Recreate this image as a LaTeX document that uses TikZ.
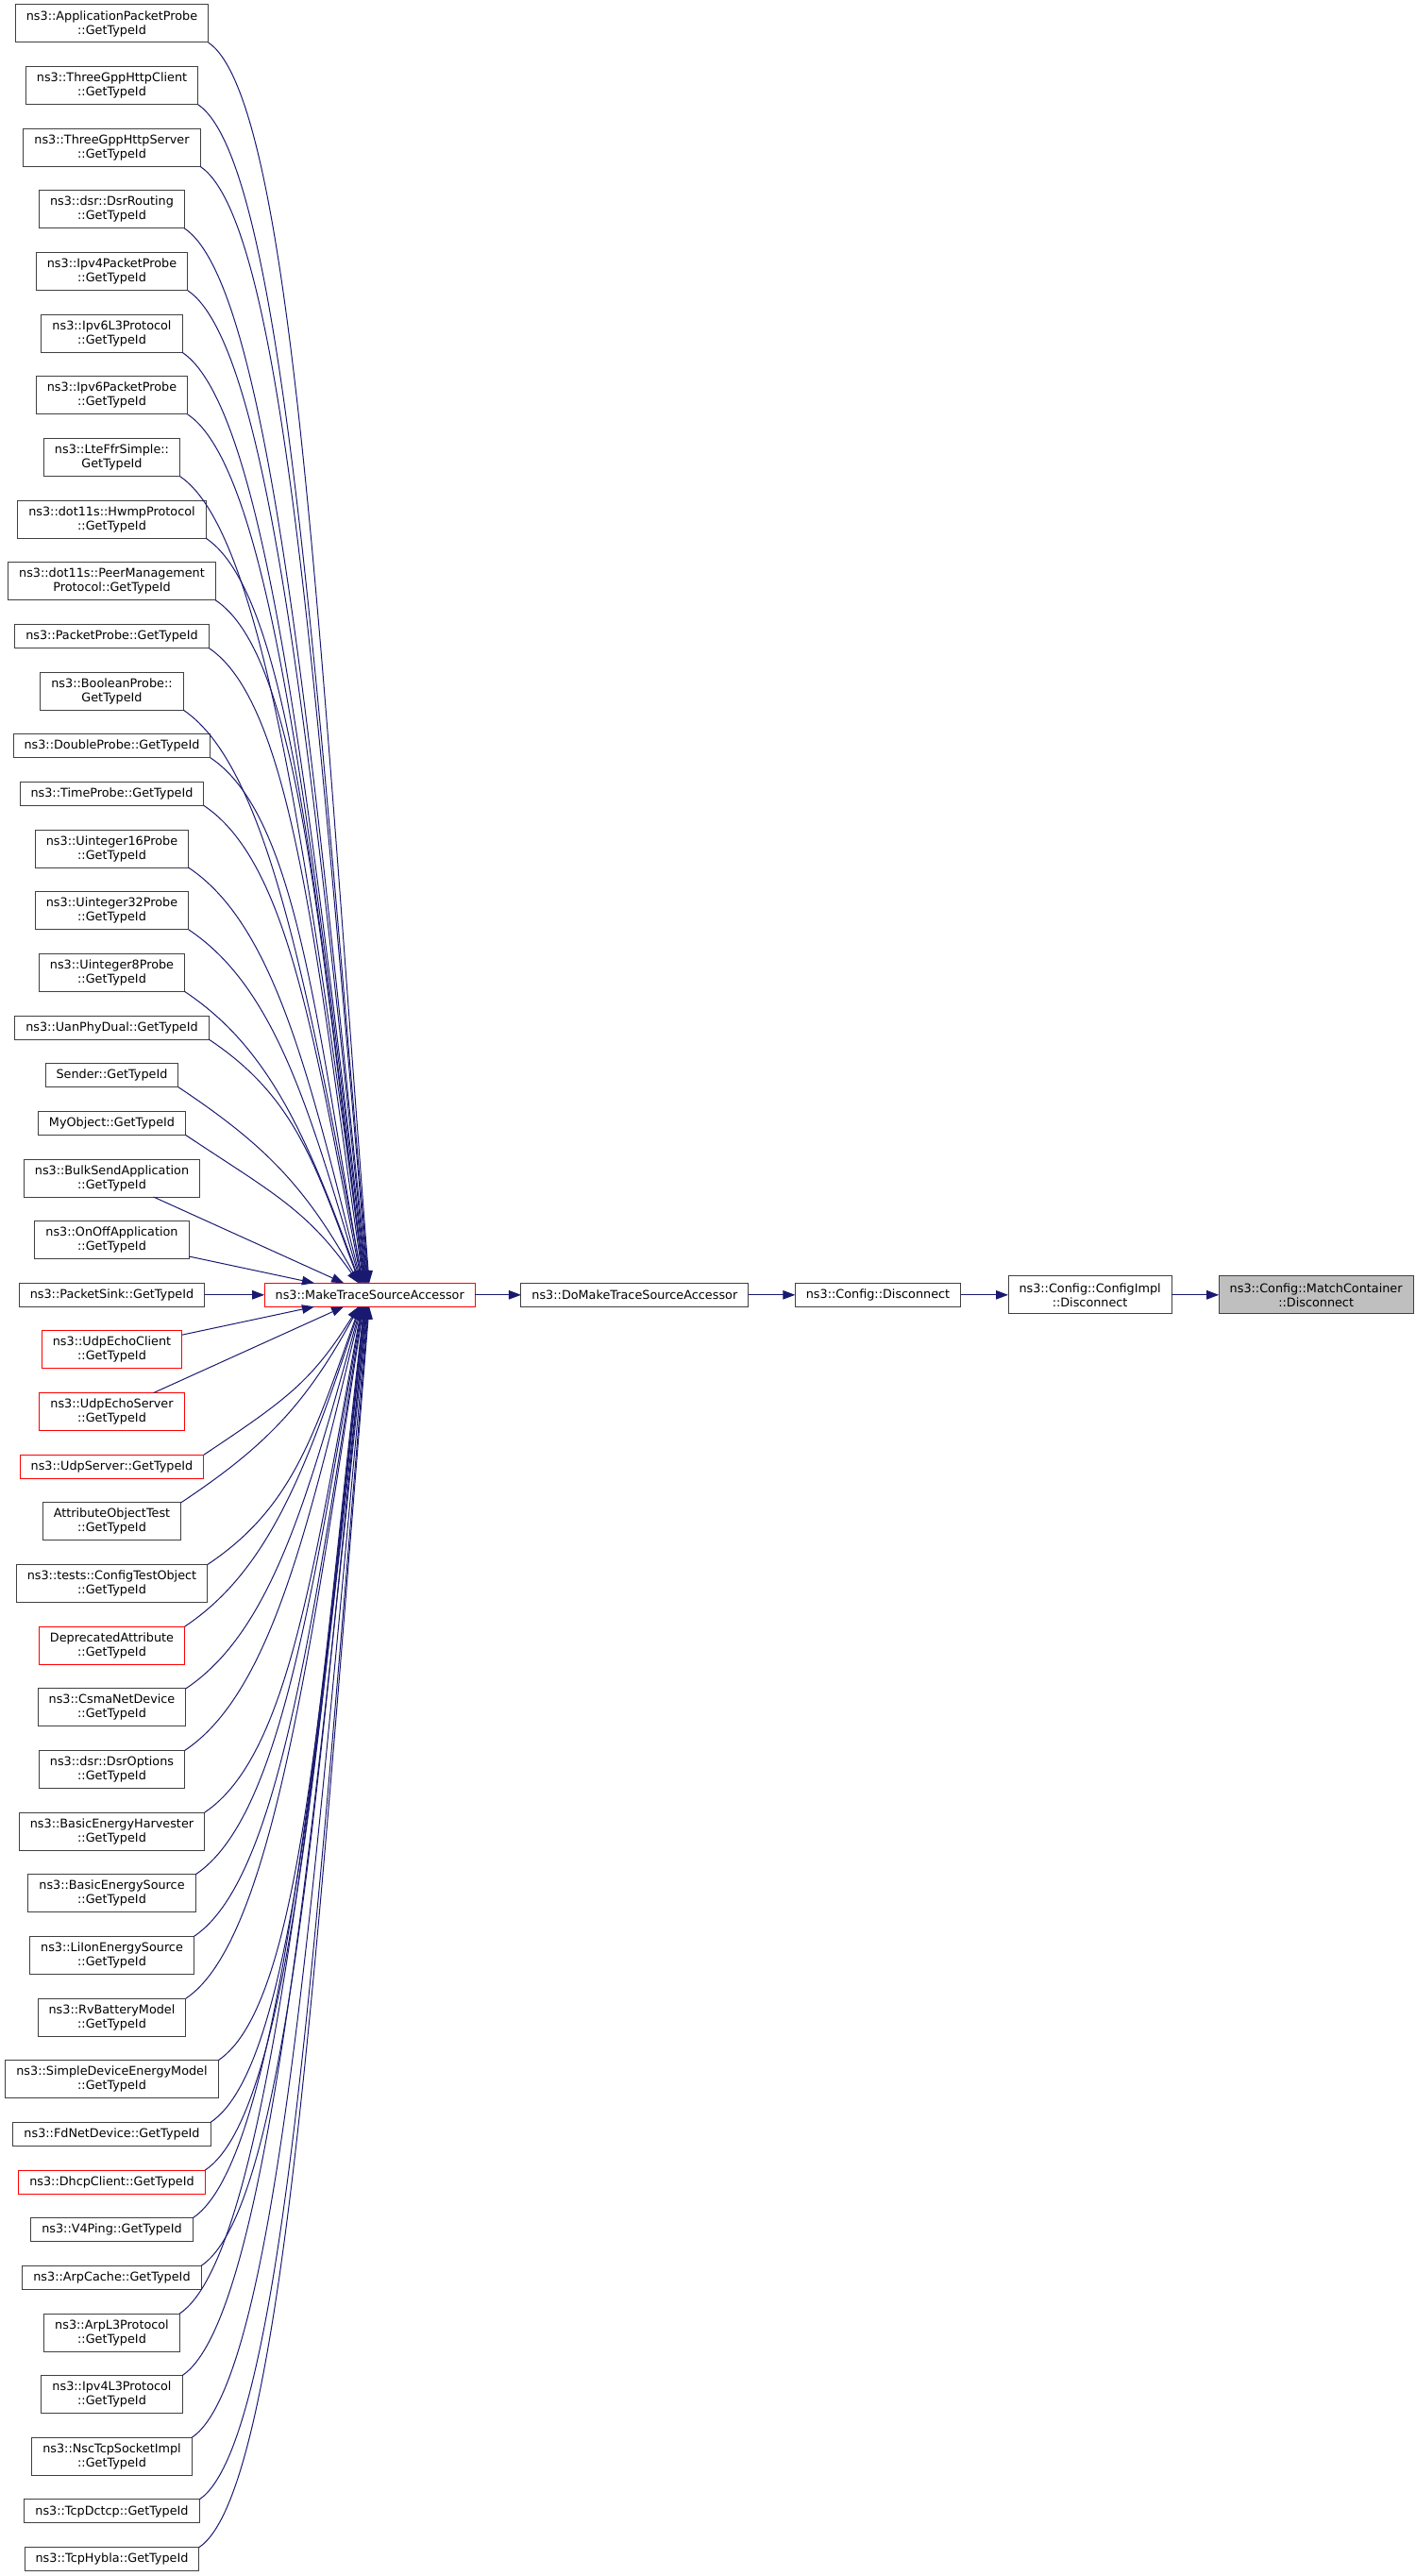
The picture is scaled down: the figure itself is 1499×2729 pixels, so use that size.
\documentclass[tikz,border=0pt]{standalone}
\usepackage{fontspec}
\setmainfont{DejaVu Sans}
\usepackage{xcolor}
\definecolor{doxyEdge}{HTML}{191970}
\definecolor{doxyBorder}{HTML}{404040}
\definecolor{doxyRed}{HTML}{FF0000}
\definecolor{doxyGrey}{HTML}{BFBFBF}
\usetikzlibrary{arrows.meta,positioning,calc}

\begin{document}
\begin{tikzpicture}[x=1pt, y=-1pt, node distance=25.65pt,
    font=\fontsize{12.8}{15}\selectfont,
    fnbox/.style={draw=doxyBorder, line width=1pt, fill=white, align=center,
                  inner xsep=11.5pt, inner ysep=2pt, outer sep=0pt, minimum height=25pt},
    fnbox2/.style={fnbox, minimum height=40pt},
    redbox/.style={draw=doxyRed},
    calledge/.style={draw=doxyEdge, line width=1pt,
                     -{Triangle[length=13pt, width=9.5pt]}}]

    \useasboundingbox (0,0) rectangle (1499,2729);

    % Callers (left column)
    \node[fnbox2] (n1) at (118.5,25) {ns3::ApplicationPacketProbe\\::GetTypeId};
    \node[fnbox2, below=of n1] (n2) {ns3::ThreeGppHttpClient\\::GetTypeId};
    \node[fnbox2, below=of n2] (n3) {ns3::ThreeGppHttpServer\\::GetTypeId};
    \node[fnbox2, below=of n3] (n4) {ns3::dsr::DsrRouting\\::GetTypeId};
    \node[fnbox2, below=of n4] (n5) {ns3::Ipv4PacketProbe\\::GetTypeId};
    \node[fnbox2, below=of n5] (n6) {ns3::Ipv6L3Protocol\\::GetTypeId};
    \node[fnbox2, below=of n6] (n7) {ns3::Ipv6PacketProbe\\::GetTypeId};
    \node[fnbox2, below=of n7] (n8) {ns3::LteFfrSimple::\\GetTypeId};
    \node[fnbox2, below=of n8] (n9) {ns3::dot11s::HwmpProtocol\\::GetTypeId};
    \node[fnbox2, below=of n9] (n10) {ns3::dot11s::PeerManagement\\Protocol::GetTypeId};
    \node[fnbox, below=of n10] (n11) {ns3::PacketProbe::GetTypeId};
    \node[fnbox2, below=of n11] (n12) {ns3::BooleanProbe::\\GetTypeId};
    \node[fnbox, below=of n12] (n13) {ns3::DoubleProbe::GetTypeId};
    \node[fnbox, below=of n13] (n14) {ns3::TimeProbe::GetTypeId};
    \node[fnbox2, below=of n14] (n15) {ns3::Uinteger16Probe\\::GetTypeId};
    \node[fnbox2, below=of n15] (n16) {ns3::Uinteger32Probe\\::GetTypeId};
    \node[fnbox2, below=of n16] (n17) {ns3::Uinteger8Probe\\::GetTypeId};
    \node[fnbox, below=of n17] (n18) {ns3::UanPhyDual::GetTypeId};
    \node[fnbox, below=of n18] (n19) {Sender::GetTypeId};
    \node[fnbox, below=of n19] (n20) {MyObject::GetTypeId};
    \node[fnbox2, below=of n20] (n21) {ns3::BulkSendApplication\\::GetTypeId};
    \node[fnbox2, below=of n21] (n22) {ns3::OnOffApplication\\::GetTypeId};
    \node[fnbox, below=of n22] (n23) {ns3::PacketSink::GetTypeId};
    \node[fnbox2, redbox, below=of n23] (n24) {ns3::UdpEchoClient\\::GetTypeId};
    \node[fnbox2, redbox, below=of n24] (n25) {ns3::UdpEchoServer\\::GetTypeId};
    \node[fnbox, redbox, below=of n25] (n26) {ns3::UdpServer::GetTypeId};
    \node[fnbox2, below=of n26] (n27) {AttributeObjectTest\\::GetTypeId};
    \node[fnbox2, below=of n27] (n28) {ns3::tests::ConfigTestObject\\::GetTypeId};
    \node[fnbox2, redbox, below=of n28] (n29) {DeprecatedAttribute\\::GetTypeId};
    \node[fnbox2, below=of n29] (n30) {ns3::CsmaNetDevice\\::GetTypeId};
    \node[fnbox2, below=of n30] (n31) {ns3::dsr::DsrOptions\\::GetTypeId};
    \node[fnbox2, below=of n31] (n32) {ns3::BasicEnergyHarvester\\::GetTypeId};
    \node[fnbox2, below=of n32] (n33) {ns3::BasicEnergySource\\::GetTypeId};
    \node[fnbox2, below=of n33] (n34) {ns3::LiIonEnergySource\\::GetTypeId};
    \node[fnbox2, below=of n34] (n35) {ns3::RvBatteryModel\\::GetTypeId};
    \node[fnbox2, below=of n35] (n36) {ns3::SimpleDeviceEnergyModel\\::GetTypeId};
    \node[fnbox, below=of n36] (n37) {ns3::FdNetDevice::GetTypeId};
    \node[fnbox, redbox, below=of n37] (n38) {ns3::DhcpClient::GetTypeId};
    \node[fnbox, below=of n38] (n39) {ns3::V4Ping::GetTypeId};
    \node[fnbox, below=of n39] (n40) {ns3::ArpCache::GetTypeId};
    \node[fnbox2, below=of n40] (n41) {ns3::ArpL3Protocol\\::GetTypeId};
    \node[fnbox2, below=of n41] (n42) {ns3::Ipv4L3Protocol\\::GetTypeId};
    \node[fnbox2, below=of n42] (n43) {ns3::NscTcpSocketImpl\\::GetTypeId};
    \node[fnbox, below=of n43] (n44) {ns3::TcpDctcp::GetTypeId};
    \node[fnbox, below=of n44] (n45) {ns3::TcpHybla::GetTypeId};

    % Call chain
    \coordinate (mcol) at (391.7,0);
    \node[fnbox, redbox] (mtsa) at (n23 -| mcol) {ns3::MakeTraceSourceAccessor};
    \node[fnbox, right=48.7pt of mtsa] (domake) {ns3::DoMakeTraceSourceAccessor};
    \node[fnbox, right=49.6pt of domake] (cfgdisc) {ns3::Config::Disconnect};
    \node[fnbox2, right=50.3pt of cfgdisc] (cfgimpl) {ns3::Config::ConfigImpl\\::Disconnect};
    \node[fnbox2, fill=doxyGrey, right=50pt of cfgimpl] (match) {ns3::Config::MatchContainer\\::Disconnect};

    % Edges from callers above
    \foreach \i in {1,...,20} {
        \pgfmathsetmacro\dx{-0.6*\i}
        \coordinate (cx) at ($([xshift=\dx pt]mtsa.north)!0.3!(n\i.south east)$);
        \coordinate (cy) at ($(mtsa.north)!0.5!(n\i.south east)$);
        \draw[calledge] (n\i.south east) .. controls +(90,60) and (cx |- cy) .. ([xshift=\dx pt]mtsa.north);
    }
    % Edges from callers below
    \foreach \i in {26,...,45} {
        \pgfmathsetmacro\dx{-0.6*(46-\i)}
        \coordinate (cx) at ($([xshift=\dx pt]mtsa.south)!0.3!(n\i.north east)$);
        \coordinate (cy) at ($(mtsa.south)!0.5!(n\i.north east)$);
        \draw[calledge] (n\i.north east) .. controls +(90,-60) and (cx |- cy) .. ([xshift=\dx pt]mtsa.south);
    }
    % Near callers
    \foreach \i in {21,...,25} {
        \draw[calledge] (n\i) -- (mtsa);
    }

    \draw[calledge] (mtsa) -- (domake);
    \draw[calledge] (domake) -- (cfgdisc);
    \draw[calledge] (cfgdisc) -- (cfgimpl);
    \draw[calledge] (cfgimpl) -- (match);

\end{tikzpicture}
\end{document}
